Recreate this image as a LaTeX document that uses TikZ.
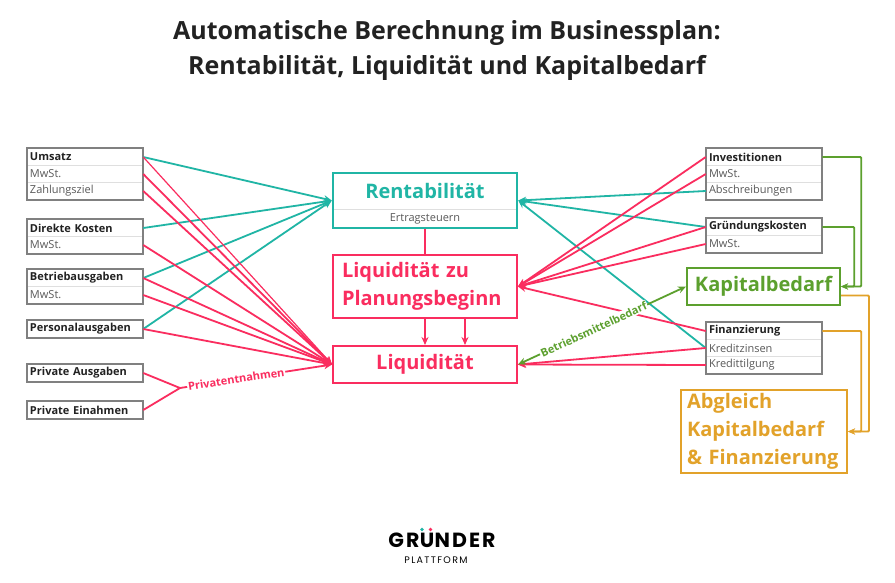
\documentclass[tikz,border=0pt]{standalone}
\usepackage{fontspec}
\setmainfont{Open Sans}
\newfontfamily\logofont[LetterSpace=10]{Poppins}
\newfontfamily\logosmall[LetterSpace=14]{Poppins}
\usetikzlibrary{arrows.meta,fit,positioning}
\definecolor{rtteal}{HTML}{20B5A5}
\definecolor{lqpink}{HTML}{FA2D5F}
\definecolor{kbgreen}{HTML}{5CA02E}
\definecolor{fzorange}{HTML}{E2A22A}
\definecolor{boxgray}{HTML}{808080}
\definecolor{titlegray}{HTML}{222222}
\tikzset{
  rowhead/.style={draw=gray!25, line width=0.5pt, minimum height=17pt, text width=110pt,
    inner xsep=3pt, inner ysep=0pt, align=left, text=titlegray,
    font=\fontsize{11}{12}\selectfont\bfseries},
  rowsub/.style={rowhead, text=black!65, font=\fontsize{11}{12}\selectfont},
  itembox/.style={draw=boxgray, line width=2.2pt, inner sep=0pt},
  titletext/.style={text=#1, inner sep=0pt, font=\fontsize{20}{28}\selectfont\bfseries},
  bigbox/.style={titletext=#1, draw=#1, line width=2pt, minimum width=184pt},
  link/.style={draw=#1, line width=1.8pt, -{Stealth[length=8pt,width=7pt]}},
  bracket/.style={draw=#1, line width=1.8pt, rounded corners=1pt, -{Stealth[length=7pt,width=6pt]}},
  linklabel/.style={sloped, fill=white, inner sep=1pt, text=#1, font=\fontsize{11}{12}\selectfont\bfseries},
  logotext/.style={inner sep=0pt, text=black, font=\logofont\fontsize{20.5}{20}\selectfont\bfseries},
}
\begin{document}
\begin{tikzpicture}[x=1pt, y=-1pt]
  \useasboundingbox[fill=white] (0,0) rectangle (895,582);
  % title
  \node[font=\fontsize{25}{35}\selectfont\bfseries, text=titlegray, align=center] (title) at (447,51)
    {Automatische Berechnung im Businessplan:\\Rentabilität, Liquidität und Kapitalbedarf};
  % left column
  \node[rowhead] (ums) at (85,157) {Umsatz};
  \node[rowsub] (umsmw) at (85,174) {MwSt.};
  \node[rowsub] (umszz) at (85,191) {Zahlungsziel};
  \node[itembox, fit=(ums)(umszz)] {};
  \node[rowhead] (dk) at (85,228) {Direkte Kosten};
  \node[rowsub] (dkmw) at (85,245) {MwSt.};
  \node[itembox, fit=(dk)(dkmw)] {};
  \node[rowhead] (ba) at (85,278) {Betriebausgaben};
  \node[rowsub] (bamw) at (85,295) {MwSt.};
  \node[itembox, fit=(ba)(bamw)] {};
  \node[rowhead] (pers) at (85,329) {Personalausgaben};
  \node[itembox, fit=(pers)] {};
  \node[rowhead] (pa) at (85,373) {Private Ausgaben};
  \node[itembox, fit=(pa)] {};
  \node[rowhead] (pe) at (85,410) {Private Einahmen};
  \node[itembox, fit=(pe)] {};
  % right column
  \node[rowhead] (inv) at (764,157) {Investitionen};
  \node[rowsub] (invmw) at (764,174) {MwSt.};
  \node[rowsub] (invab) at (764,191) {Abschreibungen};
  \node[itembox, fit=(inv)(invab)] {};
  \node[rowhead] (gk) at (764,227) {Gründungskosten};
  \node[rowsub] (gkmw) at (764,244) {MwSt.};
  \node[itembox, fit=(gk)(gkmw)] {};
  \node[rowhead] (fin) at (764,331) {Finanzierung};
  \node[rowsub] (finkz) at (764,348) {Kreditzinsen};
  \node[rowsub] (finkt) at (764,365) {Kredittilgung};
  \node[itembox, fit=(fin)(finkt)] {};
  % centre
  \node[titletext=rtteal, minimum width=184pt, minimum height=36pt] (rent) at (425,191) {Rentabilität};
  \node[rowsub, text width=178pt, align=center, minimum height=19pt] (rentst) at (425,218.5) {Ertragsteuern};
  \node[draw=rtteal, line width=2pt, inner sep=0pt, fit=(rent)(rentst)] (rentbox) {};
  \node[bigbox=lqpink, minimum height=63pt, text width=166pt, align=left] (lzp) at (425,286.5)
    {Liquidität zu\\Planungsbeginn};
  \node[bigbox=lqpink, minimum height=37pt] (liq) at (425,364.5) {Liquidität};
  \node[bigbox=kbgreen, minimum width=153pt, minimum height=37pt] (kap) at (763.5,286.5) {Kapitalbedarf};
  \node[bigbox=fzorange, minimum width=166pt, minimum height=83pt, text width=154pt, align=left] (abg)
    at (764,431.5) {Abgleich\\Kapitalbedarf\\\& Finanzierung};
  % connectors into Rentabilität
  \foreach \src in {ums,dk,ba,pers}
    \draw[link=rtteal] (\src.east) -- (rentbox.west);
  \foreach \src in {invab,gk,finkz}
    \draw[link=rtteal] (\src.west) -- (rentbox.east);
  % connectors into Liquidität
  \draw[link=lqpink, line width=1.2pt] (ums.east) -- (liq.west);
  \foreach \src in {umsmw,umszz,dkmw,ba,bamw,pers}
    \draw[link=lqpink] (\src.east) -- (liq.west);
  \foreach \src in {inv,invmw,gk,gkmw,fin}
    \draw[link=lqpink] (\src.west) -- (lzp.east);
  \foreach \src in {finkz,finkt}
    \draw[link=lqpink] (\src.west) -- (liq.east);
  \draw[lqpink, line width=1.8pt] (rentbox.south) -- (lzp.north);
  \draw[link=lqpink] (lzp.south) -- (liq.north);
  \draw[link=lqpink] ([xshift=40pt]lzp.south) -- ([xshift=40pt]liq.north);
  % Privatentnahmen
  \coordinate (pj) at (180,388);
  \draw[lqpink, line width=1.8pt] (pa.east) -- (pj) -- (pe.east);
  \draw[link=lqpink] (pj) -- node[pos=0.37, linklabel=lqpink] {Privatentnahmen} (liq.west);
  % Betriebsmittelbedarf
  \draw[draw=kbgreen, line width=1.8pt, {Stealth[length=8pt,width=7pt]}-{Stealth[length=8pt,width=7pt]}]
    (liq.east) -- node[pos=0.45, linklabel=kbgreen] {Betriebsmittelbedarf} (kap.west);
  % Kapitalbedarf und Abgleich
  \draw[bracket=kbgreen] (inv.east) -- ++(39,0) |- (kap.east);
  \draw[bracket=kbgreen] (gk.east) -- ++(32,0) |- (kap.east);
  \draw[bracket=fzorange] ([yshift=-9pt]kap.east) -- ++(28,0) |- (abg.east);
  \draw[bracket=fzorange] (fin.east) -- ++(39,0) |- (abg.east);
  % logo
  \node[logotext, anchor=base] (lu) at (427,547) {U};
  \node[logotext, anchor=base east] (lgr) at (lu.base west) {GR};
  \node[logotext, anchor=base west] (lnd) at (lu.base east) {NDER};
  \fill[rtteal] ([xshift=-5pt,yshift=3pt]lu.north) circle (1.9pt);
  \fill[lqpink] ([xshift=3.5pt,yshift=3pt]lu.north) circle (1.9pt);
  \node[font=\logosmall\fontsize{9.5}{9.5}\selectfont, inner sep=0pt, anchor=base] (lplat) at (436,563) {PLATTFORM};
\end{tikzpicture}
\end{document}
